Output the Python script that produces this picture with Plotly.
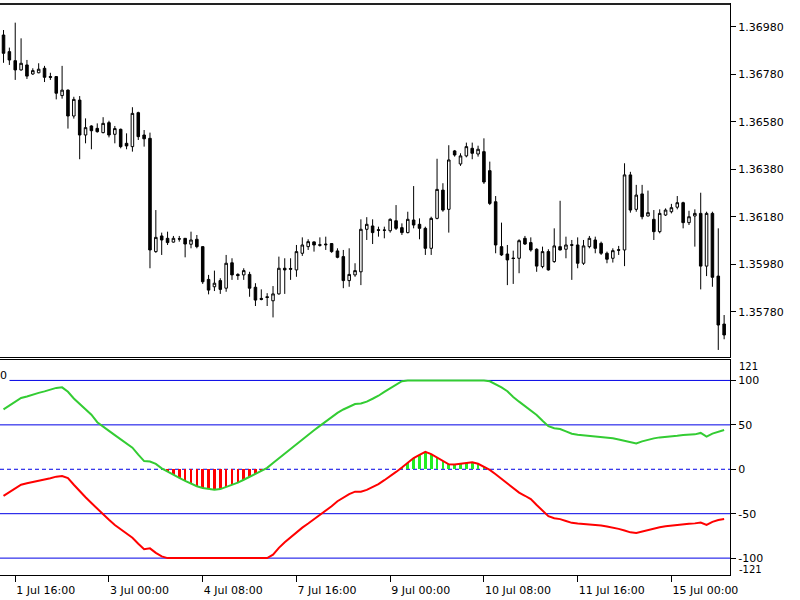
import plotly.graph_objects as go
import pandas as pd

# H2 bars, weekends skipped
times = [t.strftime('%Y-%m-%d %H:%M') for t in
         pd.date_range('2014-07-01 12:00', '2014-07-15 18:00', freq='2h') if t.weekday() < 5]

open_ = [1.36945,1.36875,1.36837,1.36798,1.36819,1.36781,1.36786,1.36805,1.36770,1.36770,
         1.36690,1.36713,1.36604,1.36671,1.36524,1.36562,1.36552,1.36534,1.36576,1.36527,
         1.36548,1.36489,1.36475,1.36618,1.36524,1.36510,1.36033,1.36099,1.36089,1.36073,
         1.36087,1.36089,1.36064,1.36085,1.36054,1.35916,1.35885,1.35911,1.35879,1.35986,
         1.35937,1.35935,1.35937,1.35883,1.35836,1.35843,1.35826,1.35855,1.35963,1.35962,
         1.35956,1.36026,1.36054,1.36074,1.36062,1.36065,1.36067,1.36036,1.36012,1.35911,
         1.35935,1.35948,1.36127,1.36141,1.36125,1.36124,1.36121,1.36163,1.36134,1.36113,
         1.36166,1.36148,1.36131,1.36047,1.36173,1.36292,1.36211,1.36457,1.36402,1.36436,
         1.36468,1.36444,1.36454,1.36374,1.36243,1.36054,1.36023,1.36006,1.36005,1.36089,
         1.36071,1.36043,1.35970,1.36033,1.35991,1.36054,1.36043,1.36062,1.36061,1.35984,
         1.36054,1.36082,1.36068,1.36026,1.36005,1.36041,1.36040,1.36356,1.36211,1.36276,
         1.36183,1.36169,1.36117,1.36187,1.36201,1.36220,1.36239,1.36155,1.36183,1.36194,
         1.35972,1.36194,1.35930,1.35728]
high = [1.36966,1.36892,1.36997,1.36931,1.36840,1.36805,1.36826,1.36815,1.36786,1.36772,
        1.36815,1.36716,1.36685,1.36688,1.36594,1.36565,1.36573,1.36599,1.36584,1.36562,
        1.36551,1.36531,1.36641,1.36622,1.36545,1.36534,1.36208,1.36113,1.36117,1.36099,
        1.36099,1.36090,1.36117,1.36103,1.36056,1.35935,1.35953,1.35921,1.36019,1.36005,
        1.35942,1.35963,1.35948,1.35900,1.35874,1.35858,1.35888,1.36012,1.36005,1.36005,
        1.36061,1.36093,1.36085,1.36076,1.36093,1.36096,1.36069,1.36047,1.36040,1.36047,
        1.35984,1.36169,1.36178,1.36169,1.36138,1.36138,1.36173,1.36229,1.36152,1.36201,
        1.36309,1.36173,1.36138,1.36180,1.36424,1.36321,1.36481,1.36461,1.36447,1.36492,
        1.36492,1.36479,1.36510,1.36412,1.36267,1.36155,1.36061,1.36037,1.36085,1.36099,
        1.36093,1.36047,1.36054,1.36043,1.36131,1.36247,1.36096,1.36082,1.36093,1.36082,
        1.36099,1.36096,1.36075,1.36033,1.36047,1.36057,1.36405,1.36369,1.36314,1.36314,
        1.36290,1.36208,1.36211,1.36215,1.36234,1.36267,1.36243,1.36205,1.36211,1.36281,
        1.36201,1.36201,1.36131,1.35766]
low = [1.36828,1.36819,1.36756,1.36795,1.36760,1.36777,1.36784,1.36747,1.36756,1.36674,
       1.36677,1.36551,1.36593,1.36422,1.36489,1.36464,1.36534,1.36531,1.36514,1.36489,
       1.36468,1.36464,1.36454,1.36503,1.36475,1.35963,1.36028,1.36019,1.36061,1.36071,
       1.36075,1.36009,1.36047,1.36047,1.35897,1.35853,1.35867,1.35855,1.35864,1.35914,
       1.35914,1.35914,1.35843,1.35804,1.35828,1.35804,1.35756,1.35852,1.35855,1.35914,
       1.35927,1.36015,1.36040,1.36033,1.36054,1.36040,1.36028,1.36005,1.35879,1.35885,
       1.35927,1.35892,1.36082,1.36065,1.36096,1.36089,1.36113,1.36124,1.36103,1.36110,
       1.36131,1.36085,1.36019,1.36019,1.36169,1.36201,1.36113,1.36433,1.36394,1.36430,
       1.36422,1.36433,1.36318,1.36229,1.36026,1.36015,1.35892,1.35897,1.35942,1.36061,
       1.36033,1.35948,1.35963,1.35953,1.35986,1.36038,1.36005,1.35914,1.35963,1.35977,
       1.36047,1.36026,1.36019,1.35984,1.35987,1.36019,1.35972,1.36197,1.36201,1.36169,
       1.36181,1.36082,1.36110,1.36183,1.36194,1.36211,1.36131,1.36145,1.36054,1.35874,
       1.35930,1.35885,1.35619,1.35664]
close = [1.36868,1.36840,1.36798,1.36826,1.36772,1.36795,1.36801,1.36767,1.36767,1.36700,
         1.36713,1.36604,1.36674,1.36524,1.36555,1.36542,1.36538,1.36573,1.36524,1.36551,
         1.36475,1.36478,1.36615,1.36517,1.36508,1.36040,1.36093,1.36082,1.36071,1.36089,
         1.36086,1.36065,1.36082,1.36054,1.35906,1.35871,1.35900,1.35874,1.35984,1.35935,
         1.35932,1.35953,1.35879,1.35829,1.35832,1.35840,1.35855,1.35963,1.35956,1.35959,
         1.36033,1.36061,1.36075,1.36061,1.36060,1.36062,1.36033,1.36009,1.35911,1.35937,
         1.35953,1.36127,1.36148,1.36113,1.36123,1.36123,1.36169,1.36131,1.36113,1.36169,
         1.36145,1.36131,1.36047,1.36173,1.36295,1.36208,1.36419,1.36440,1.36436,1.36475,
         1.36447,1.36464,1.36326,1.36236,1.36061,1.36019,1.35998,1.36004,1.36079,1.36065,
         1.36040,1.35972,1.36033,1.35956,1.36057,1.36040,1.36061,1.36060,1.35984,1.36057,
         1.36089,1.36047,1.36026,1.36001,1.36037,1.36039,1.36356,1.36208,1.36271,1.36180,
         1.36197,1.36117,1.36194,1.36208,1.36218,1.36239,1.36155,1.36180,1.36194,1.35972,
         1.36194,1.35925,1.35724,1.35682]

bull_line = [67.5,72.0,76.3,80.3,82.0,84.3,86.0,87.7,89.4,91.6,
             92.2,87.2,79.7,73.2,67.4,61.4,53.0,48.6,43.2,38.4,
             33.5,28.9,24.3,16.5,9.2,8.8,6.1,1.1,-2.8,-6.3,
             -9.8,-13.1,-16.2,-19.1,-21.1,-22.0,-23.0,-22.3,-20.1,-18.1,
             -15.1,-11.8,-8.5,-5.2,-2.0,1.6,7.1,12.5,18.0,23.3,
             28.6,34.1,39.1,44.0,48.9,53.9,58.8,63.5,67.3,70.8,
             73.4,74.0,76.2,79.4,82.8,87.2,91.3,95.0,99.1,100,
             100,100,100,100,100,100,100,100,100,100,
             100,100,100,99.0,95.7,92.2,87.9,81.4,76.1,70.9,
             66.7,61.1,54.6,48.5,46.2,45.3,42.6,40.0,38.9,38.2,
             37.5,37.2,36.8,36.0,34.8,33.5,31.9,30.2,29.0,31.4,
             33.2,34.8,35.9,36.3,36.9,37.7,38.6,39.0,39.3,40.9,
             36.8,40.2,42.6,44.2]
bear_line = [-30.0,-25.6,-21.3,-17.4,-15.7,-14.0,-12.7,-11.4,-10.0,-8.3,
             -7.5,-9.9,-17.4,-24.8,-31.5,-38.0,-44.7,-50.8,-56.9,-62.7,
             -67.7,-72.3,-77.0,-83.8,-89.9,-89.0,-94.1,-98.0,-100,-100,
             -100,-100,-100,-100,-100,-100,-100,-100,-100,-100,
             -100,-100,-100,-100,-100,-100,-96.1,-88.5,-82.2,-76.5,
             -70.4,-65.7,-61.1,-56.4,-52.0,-47.1,-41.6,-36.0,-31.8,-28.0,
             -25.2,-25.2,-23.2,-20.0,-16.7,-12.3,-8.1,-3.0,2.0,7.4,
             12.6,16.3,19.6,17.0,13.5,9.6,5.6,5.5,6.4,7.1,
             7.8,6.2,3.1,-0.7,-5.6,-10.6,-15.7,-21.0,-26.3,-29.8,
             -33.6,-40.2,-46.3,-52.8,-55.1,-56.1,-58.2,-60.3,-61.1,-61.5,
             -61.9,-62.5,-63.2,-64.3,-65.5,-67.1,-69.0,-71.0,-71.6,-69.8,
             -68.2,-66.5,-65.2,-64.2,-63.3,-62.6,-61.9,-61.4,-60.9,-59.9,
             -62.7,-59.2,-57.1,-56.0]

price_ticks = [1.35780, 1.35980, 1.36180, 1.36380, 1.36580, 1.36780, 1.36980]
osc_levels = [100, 50, -50, -100]
osc_tickvals = [100, 50, 0, -50, -100]
osc_ticktext = ['100', '50', '0', '-50', '-100']
osc_scale_max = 121
time_tick_idx = [2, 18, 34, 50, 66, 82, 98, 114]
time_tick_text = ['1 Jul 16:00', '3 Jul 00:00', '4 Jul 08:00', '7 Jul 16:00',
                  '9 Jul 00:00', '10 Jul 08:00', '11 Jul 16:00', '15 Jul 00:00']

FONT = 'DejaVu Sans'
GREEN = '#33cc33'
RED = '#ff0000'
BLUE = '#0000e6'

fig = go.Figure()

fig.add_trace(go.Candlestick(
    x=times, open=open_, high=high, low=low, close=close,
    increasing=dict(line=dict(color='black', width=1), fillcolor='white'),
    decreasing=dict(line=dict(color='black', width=1), fillcolor='black'),
    whiskerwidth=0, xaxis='x', yaxis='y', showlegend=False, hoverinfo='skip'))

# histogram stripes
neg_x = [t for t, g in zip(times, bull_line) if g < 0]
neg_y = [g for g in bull_line if g < 0]
pos_x = [t for t, r in zip(times, bear_line) if r > 0]
pos_y = [r for r in bear_line if r > 0]
fig.add_trace(go.Bar(x=neg_x, y=neg_y, base=0, width=0.45, marker=dict(color=RED, line=dict(width=0)),
                     xaxis='x2', yaxis='y2', showlegend=False, hoverinfo='skip'))
fig.add_trace(go.Bar(x=pos_x, y=pos_y, base=0, width=0.45, marker=dict(color='#22ee22', line=dict(width=0)),
                     xaxis='x2', yaxis='y2', showlegend=False, hoverinfo='skip'))

fig.add_trace(go.Scatter(x=times, y=bull_line, mode='lines', line=dict(color=GREEN, width=2),
                         xaxis='x2', yaxis='y2', showlegend=False, hoverinfo='skip'))
fig.add_trace(go.Scatter(x=times, y=bear_line, mode='lines', line=dict(color=RED, width=2),
                         xaxis='x2', yaxis='y2', showlegend=False, hoverinfo='skip'))

shapes = []
for lv in osc_levels:
    shapes.append(dict(type='line', xref='x2 domain', x0=0, x1=1, yref='y2', y0=lv, y1=lv,
                       line=dict(color=BLUE, width=1), layer='below'))
shapes.append(dict(type='line', xref='x2 domain', x0=0, x1=1, yref='y2', y0=0, y1=0,
                   line=dict(color=BLUE, width=1, dash='4px,3px'), layer='below'))
# heavier frame lines at the top of each pane
shapes.append(dict(type='line', xref='paper', x0=0, x1=1, yref='paper', y0=1, y1=1,
                   line=dict(color='#222222', width=2)))

xr = [-0.6, 124.0]
top_dom = [(575 - 357) / 571, 1.0]
bot_dom = [0.0, (575 - 360) / 571]

fig.update_layout(
    width=800, height=600,
    margin=dict(l=0, r=70, t=4, b=25, autoexpand=False),
    paper_bgcolor='white', plot_bgcolor='white',
    boxgap=0.38, bargap=0,
    font=dict(family=FONT, size=11, color='black'),
    shapes=shapes,
    xaxis=dict(type='category', range=xr, domain=[0, 1], anchor='y',
               showticklabels=False, ticks='', showgrid=False, zeroline=False,
               showline=True, mirror=True, linecolor='black', linewidth=1,
               rangeslider=dict(visible=False), fixedrange=True),
    yaxis=dict(domain=top_dom, anchor='x', side='right', range=[1.355893, 1.370756],
               tickvals=price_ticks, tickformat='.5f', ticks='outside', ticklen=5,
               tickcolor='black', showgrid=False, zeroline=False,
               showline=True, linecolor='black', linewidth=1,
               tickfont=dict(family=FONT, size=11)),
    xaxis2=dict(type='category', range=xr, domain=[0, 1], anchor='y2', matches='x',
                tickvals=[times[i] for i in time_tick_idx], ticktext=time_tick_text,
                ticks='outside', ticklen=6, tickcolor='black', ticklabelposition='outside right',
                ticklabelstandoff=5,
                showgrid=False, zeroline=False, showline=True, mirror=True,
                linecolor='black', linewidth=1, tickangle=0,
                tickfont=dict(family=FONT, size=11)),
    yaxis2=dict(domain=bot_dom, anchor='x2', side='right', range=[-119.0, 123.0],
                tickvals=osc_tickvals, ticktext=osc_ticktext, ticks='outside', ticklen=5,
                tickcolor='black', showgrid=False, zeroline=False,
                showline=True, linecolor='black', linewidth=1,
                tickfont=dict(family=FONT, size=11)),
    annotations=[
        dict(text='0', xref='paper', yref='paper', x=0, xanchor='left',
             y=(575 - 375.5) / 571, yanchor='middle', showarrow=False,
             bgcolor='white', borderpad=2, xshift=-3,
             font=dict(family=FONT, size=11, color='black')),
        dict(text=str(osc_scale_max), xref='paper', yref='paper', x=1, xanchor='left', xshift=7,
             y=(575 - 366) / 571, yanchor='middle', showarrow=False,
             font=dict(family=FONT, size=10, color='black')),
        dict(text='-' + str(osc_scale_max), xref='paper', yref='paper', x=1, xanchor='left', xshift=7,
             y=(575 - 569) / 571, yanchor='middle', showarrow=False,
             font=dict(family=FONT, size=10, color='black')),
    ],
)

fig.write_html('out.html', config={'displayModeBar': False, 'staticPlot': True},
               post_script="document.body.style.margin='0';document.body.style.padding='0';")
